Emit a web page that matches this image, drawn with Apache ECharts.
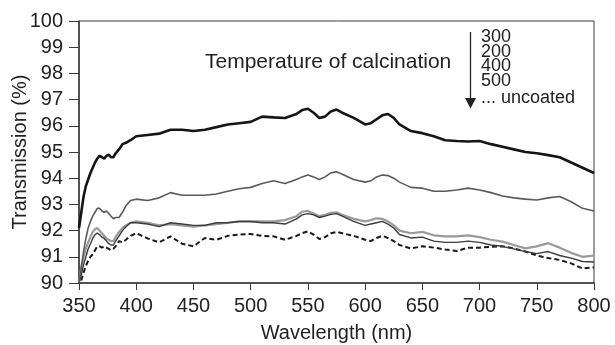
<!DOCTYPE html>
<html>
<head>
<meta charset="utf-8">
<script src="https://cdn.jsdelivr.net/npm/echarts@6/dist/echarts.min.js"></script>
<style>
  html, body { margin: 0; padding: 0; background: #fff; }
  #main { width: 615px; height: 345px; }
</style>
</head>
<body>
<div id="main"></div>
<script>
// wavelength (nm), shared by all curves
const wavelengths = [350, 352, 354, 356, 358, 360, 362, 364, 366, 368, 370, 372, 374, 376, 378, 380,
  382, 385, 388, 391, 395, 400, 410, 420, 430, 440, 450, 460, 470, 480, 490, 500, 510, 520, 530, 540,
  545, 550, 555, 560, 565, 570, 575, 580, 590, 600, 605, 610, 615, 620, 625, 630,
  640, 650, 660, 670, 680, 690, 700, 710, 720, 730, 740, 750, 760, 770, 780, 790, 800];

const t300 = [92.1, 92.7, 93.3, 93.7, 93.95, 94.2, 94.4, 94.6, 94.75, 94.85, 94.8, 94.75, 94.85, 94.9, 94.8, 94.8,
  94.95, 95.1, 95.3, 95.35, 95.45, 95.6, 95.65, 95.7, 95.85, 95.85, 95.8, 95.85, 95.95, 96.05, 96.1, 96.15, 96.35, 96.32, 96.3, 96.45,
  96.6, 96.65, 96.5, 96.3, 96.35, 96.55, 96.62, 96.5, 96.3, 96.05, 96.1, 96.25, 96.4, 96.45, 96.3, 96.05,
  95.8, 95.72, 95.6, 95.45, 95.42, 95.4, 95.42, 95.3, 95.2, 95.1, 95.0, 94.95, 94.88, 94.8, 94.6, 94.4, 94.2];

const t200 = [90.0, 90.6, 91.2, 91.7, 92.1, 92.35, 92.55, 92.7, 92.85, 92.85, 92.75, 92.7, 92.75, 92.65, 92.55, 92.45,
  92.5, 92.5, 92.7, 92.95, 93.15, 93.2, 93.15, 93.25, 93.45, 93.35, 93.35, 93.35, 93.4, 93.5, 93.6, 93.65, 93.8, 93.9, 93.8, 93.95,
  94.05, 94.12, 94.05, 93.95, 94.05, 94.2, 94.25, 94.15, 93.95, 93.85, 93.9, 94.05, 94.12, 94.1, 94.0, 93.85,
  93.65, 93.62, 93.5, 93.5, 93.55, 93.62, 93.55, 93.45, 93.32, 93.25, 93.2, 93.17, 93.25, 93.3, 93.1, 92.85, 92.75];

const t400 = [90.0, 90.3, 90.7, 91.0, 91.3, 91.5, 91.7, 91.85, 91.9, 91.85, 91.75, 91.7, 91.6, 91.5, 91.45, 91.45,
  91.6, 91.8, 92.0, 92.15, 92.3, 92.3, 92.25, 92.15, 92.3, 92.25, 92.2, 92.2, 92.3, 92.3, 92.35, 92.35, 92.3, 92.3, 92.25, 92.45,
  92.6, 92.65, 92.6, 92.5, 92.55, 92.62, 92.65, 92.55, 92.35, 92.2, 92.25, 92.3, 92.35, 92.25, 92.1, 91.85,
  91.72, 91.75, 91.6, 91.55, 91.55, 91.6, 91.55, 91.45, 91.4, 91.3, 91.2, 91.12, 91.2, 91.05, 90.95, 90.82, 90.8];

const t500 = [90.0, 90.6, 91.0, 91.3, 91.55, 91.75, 91.95, 92.05, 92.1, 92.0, 91.9, 91.8, 91.7, 91.65, 91.6, 91.6,
  91.75, 91.95, 92.1, 92.2, 92.3, 92.35, 92.3, 92.2, 92.25, 92.2, 92.15, 92.2, 92.25, 92.3, 92.35, 92.35, 92.35, 92.35, 92.4, 92.55,
  92.72, 92.75, 92.65, 92.55, 92.6, 92.68, 92.7, 92.6, 92.45, 92.35, 92.4, 92.47, 92.45, 92.35, 92.2, 92.0,
  91.9, 91.95, 91.82, 91.78, 91.78, 91.82, 91.75, 91.65, 91.58, 91.45, 91.32, 91.4, 91.52, 91.35, 91.15, 91.0, 91.05];

const uncoated = [89.8, 90.1, 90.4, 90.65, 90.85, 91.0, 91.1, 91.25, 91.4, 91.4, 91.35, 91.4, 91.35, 91.3, 91.25, 91.3,
  91.4, 91.6, 91.55, 91.65, 91.8, 91.9, 91.7, 91.55, 91.78, 91.5, 91.4, 91.72, 91.65, 91.8, 91.85, 91.87, 91.8, 91.78, 91.65, 91.8,
  91.9, 91.97, 91.85, 91.68, 91.75, 91.9, 91.95, 91.9, 91.8, 91.65, 91.6, 91.72, 91.8, 91.72, 91.6, 91.45,
  91.32, 91.4, 91.35, 91.28, 91.22, 91.35, 91.35, 91.38, 91.4, 91.32, 91.2, 91.05, 90.95, 90.88, 90.75, 90.55, 90.6];

const legendLabels = ['300', '200', '400', '500', '... uncoated'];

const font = 'Liberation Sans, Arial, sans-serif';
const axisColor = '#3a3a3a';

let pairs = (ys) => wavelengths.map((w, i) => [w, ys[i]]);

let lineSeries = (name, ys, color, width, type) => ({
    name: name,
    type: 'line',
    data: pairs(ys),
    showSymbol: false,
    symbol: 'none',
    clip: true,
    silent: true,
    lineStyle: {color: color, width: width, type: type || 'solid'}
});

// y centre of each legend row (last row sits a bit lower in the original)
const rowY = [37.5, 52, 66.5, 81.3, 98.5];

const chart = echarts.init(document.getElementById('main'), null, {renderer: 'canvas'});

chart.setOption({
    animation: false,
    backgroundColor: '#fff',
    textStyle: {fontFamily: font},
    grid: {
        left: 79, right: 21, top: 21, bottom: 62,
        containLabel: false,
        outerBoundsMode: 'none',
        show: true, borderColor: axisColor, borderWidth: 1
    },
    xAxis: {
        type: 'value',
        min: 350, max: 800, interval: 50,
        name: 'Wavelength (nm)',
        nameLocation: 'middle',
        nameGap: 40,
        nameMoveOverlap: false,
        nameTextStyle: {fontSize: 20, color: '#222', fontFamily: font},
        axisLine: {lineStyle: {color: axisColor, width: 1.5}},
        axisTick: {show: true, inside: false, length: 7, lineStyle: {color: axisColor}},
        axisLabel: {fontSize: 20, color: '#222', margin: 13, fontFamily: font, hideOverlap: false},
        splitLine: {show: false}
    },
    yAxis: {
        type: 'value',
        min: 90, max: 100, interval: 1,
        name: 'Transmission (%)',
        nameLocation: 'middle',
        nameGap: 49,
        nameMoveOverlap: false,
        nameTextStyle: {fontSize: 20, color: '#222', fontFamily: font},
        axisLine: {show: true, lineStyle: {color: axisColor, width: 1.5}},
        axisTick: {show: true, inside: false, length: 10, lineStyle: {color: axisColor}},
        axisLabel: {fontSize: 20, color: '#222', margin: 16, fontFamily: font},
        splitLine: {show: false}
    },
    series: [
        lineSeries('uncoated', uncoated, '#1a1a1a', 2, [5, 3]),
        lineSeries('500', t500, '#9a9a9a', 2.2),
        lineSeries('400', t400, '#3c3c3c', 1.4),
        lineSeries('200', t200, '#5a5a5a', 1.6),
        lineSeries('300', t300, '#151515', 2.6)
    ],
    graphic: [
        {
            type: 'text', x: 205, y: 62,
            style: {text: 'Temperature of calcination', font: '21px ' + font, fill: '#222', verticalAlign: 'middle'}
        },
        {
            type: 'line',
            shape: {x1: 470.5, y1: 32, x2: 470.5, y2: 100},
            style: {stroke: '#222', lineWidth: 1.3}
        },
        {
            type: 'polygon',
            shape: {points: [[465, 98], [476, 98], [470.5, 108.5]]},
            style: {fill: '#222'}
        }
    ].concat(legendLabels.map((label, i) => ({
        type: 'text', x: 481, y: rowY[i],
        style: {text: label, font: '18px ' + font, fill: '#222', verticalAlign: 'middle'}
    })))
});
</script>
</body>
</html>
